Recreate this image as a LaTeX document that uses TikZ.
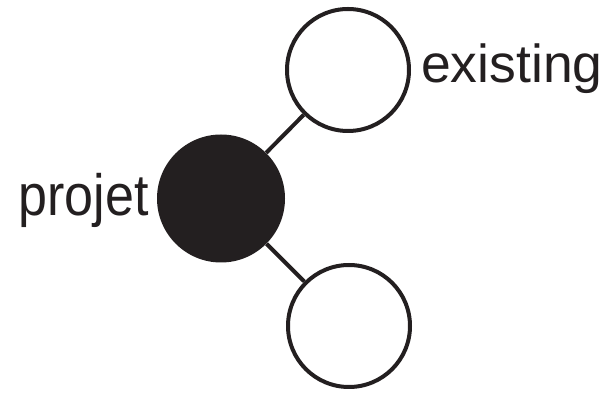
\documentclass[tikz,border=0pt]{standalone}
\usepackage{fontspec}
\setmainfont{Liberation Sans}
\definecolor{ink}{HTML}{231F20}
\begin{document}
\begin{tikzpicture}[x=1pt,y=1pt,
  project/.style={circle,fill=ink,minimum size=128pt,inner sep=0pt},
  existingnode/.style={circle,draw=ink,line width=4pt,fill=white,minimum size=122pt,inner sep=0pt},
  link/.style={draw=ink,line width=4pt},
  lbl/.style={inner sep=0pt,text=ink}]
\useasboundingbox (0,0) rectangle (605,393);
\node[project] (p) at (221,194.5) {};
\node[existingnode] (t) at (348,323) {};
\node[existingnode] (b) at (349,67) {};
\draw[link] (p) -- (t);
\draw[link] (p) -- (b);
\node[lbl,anchor=base east,font=\fontsize{52}{60}\selectfont] (pl) at (149,177) {\scalebox{1.0}[1.12]{projet}};
\node[lbl,anchor=base west,font=\fontsize{53.5}{60}\selectfont] (el) at (421,310) {existing};
\end{tikzpicture}
\end{document}
